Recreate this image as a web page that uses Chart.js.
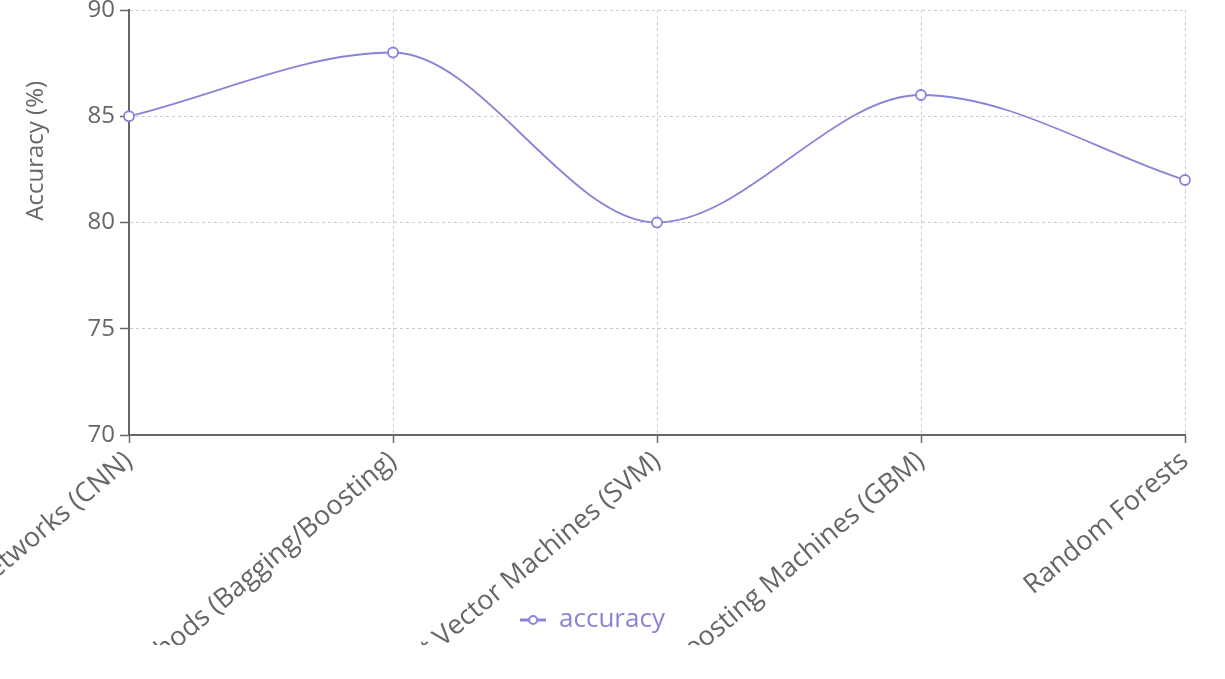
<!DOCTYPE html>
<html>
<head>
<meta charset="utf-8">
<script src="https://cdn.jsdelivr.net/npm/chart.js@4.4.0/dist/chart.umd.min.js"></script>
<style>
html, body { margin: 0; padding: 0; background: #fff; }
#wrap { width: 1193px; height: 679px; }
</style>
</head>
<body>
<div id="wrap"><canvas id="chart" width="1193" height="679"></canvas></div>
<script>
/*===== DATA =====*/

const models = [
    "Convolutional Neural Networks (CNN)",
    "Ensemble Methods (Bagging/Boosting)",
    "Support Vector Machines (SVM)",
    "Gradient Boosting Machines (GBM)",
    "Random Forests"
];
const accuracy = [85, 88, 80, 86, 82];
const yTicks = [70, 75, 80, 85, 90];

/*===== STYLE =====*/

const lineColour = "#8884d8";
const axisColour = "#666";
const gridColour = "#ccc";
const labelClip = 645; // tick labels are cut off below this line

// x axis whose tick labels run past the axis box and get cut at labelClip
class ClippedCategory extends Chart.CategoryScale {
    _computeLabelArea() {
        return { top: this.top, left: 0, bottom: labelClip, right: this.chart.width };
    }
}
ClippedCategory.id = "clippedCategory";
ClippedCategory.defaults = Chart.CategoryScale.defaults;
Chart.register(ClippedCategory);

// legend icon: short line with a hollow dot
var icon = document.createElement("canvas");
icon.width = 26;
icon.height = 12;
var ic = icon.getContext("2d");
ic.strokeStyle = lineColour;
ic.lineWidth = 3;
ic.beginPath();
ic.moveTo(0, 6);
ic.lineTo(26, 6);
ic.stroke();
ic.fillStyle = "#fff";
ic.lineWidth = 2;
ic.beginPath();
ic.arc(13, 6, 4, 0, 2 * Math.PI);
ic.fill();
ic.stroke();

/*===== CHART =====*/

new Chart("chart", {
    type: "line",
    data: {
        labels: models,
        datasets: [{
            label: "accuracy",
            data: accuracy,
            borderColor: lineColour,
            borderWidth: 1.8,
            backgroundColor: "#fff",
            pointRadius: 5,
            pointBorderWidth: 1.8,
            pointBackgroundColor: "#fff",
            pointBorderColor: lineColour,
            cubicInterpolationMode: "monotone",
            fill: false,
            clip: false
        }]
    },
    options: {
        responsive: false,
        maintainAspectRatio: false,
        animation: false,
        events: [],
        layout: {
            padding: { left: 0, right: 8, top: 10, bottom: 36 }
        },
        plugins: {
            tooltip: { enabled: false },
            legend: {
                position: "bottom",
                labels: {
                    usePointStyle: true,
                    pointStyle: icon,
                    pointStyleWidth: 26,
                    color: lineColour,
                    padding: 10,
                    font: { family: "'Open Sans'", size: 26 }
                }
            }
        },
        scales: {
            x: {
                type: "clippedCategory",
                offset: false,
                grid: {
                    color: gridColour,
                    tickColor: axisColour,
                    tickWidth: 1.5,
                    tickLength: 8,
                    offset: false
                },
                border: { color: axisColour, width: 2, dash: [3, 3] },
                ticks: {
                    color: axisColour,
                    autoSkip: false,
                    minRotation: 40,
                    maxRotation: 40,
                    padding: 2,
                    font: { family: "'Open Sans'", size: 27 }
                },
                afterFit: function(scale) {
                    scale.height = 162;
                    scale.paddingLeft = 0;
                    scale.paddingRight = 0;
                }
            },
            y: {
                min: 70,
                max: 90,
                afterBuildTicks: function(scale) {
                    scale.ticks = yTicks.map(function(v) { return { value: v }; });
                },
                grid: {
                    color: gridColour,
                    tickColor: axisColour,
                    tickWidth: 1.5,
                    tickLength: 9
                },
                border: { color: axisColour, width: 2, dash: [3, 3] },
                ticks: {
                    color: axisColour,
                    padding: 5,
                    font: { family: "'Open Sans'", size: 24 }
                },
                title: {
                    display: true,
                    // leading spaces push the title up, it starts at the axis middle in the original
                    text: " ".repeat(23) + "Accuracy (%)",
                    color: axisColour,
                    padding: { top: 22, bottom: 0 },
                    font: { family: "'Open Sans'", size: 24 }
                },
                afterFit: function(scale) {
                    scale.width = 129;
                    scale.paddingTop = 0;
                    scale.paddingBottom = 0;
                }
            }
        }
    }
});
</script>
</body>
</html>
